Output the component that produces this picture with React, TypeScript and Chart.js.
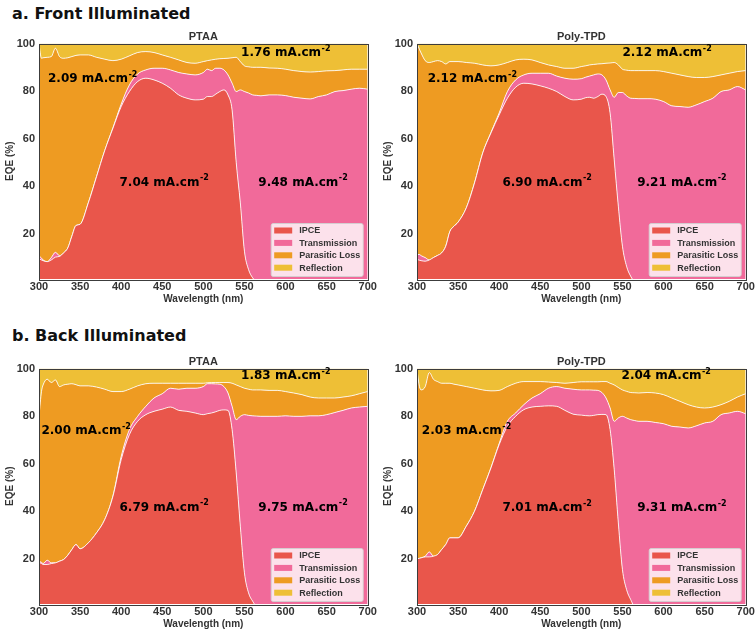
import React, { useEffect, useRef } from "react";
import { Chart, registerables } from "chart.js";
Chart.register(...registerables);

// ---------- DATA ----------
const WAVELENGTH = [
  300, 303, 305, 310, 315, 320, 325, 330, 335, 340, 345, 350,
  360, 370, 380, 390, 400, 410, 420, 430, 440, 450, 460, 470, 480, 490, 500,
  505, 510, 515, 520, 525, 530, 535, 540, 545, 550, 555, 560, 565, 570,
  580, 590, 600, 610, 620, 630, 640, 650, 660, 670, 680, 690, 700,
];

const SERIES_LABELS = ["IPCE", "Transmission", "Parasitic Loss", "Reflection"];
const X_TICK_STEP = 50;
const Y_TICKS = [20, 40, 60, 80, 100];

// cumulative boundaries (EQE %): IPCE, IPCE+Transmission, 100-Reflection
const FRONT_PTAA_IPCE = [
  9.5, 9.0, 8.7, 8.3, 9.0, 10.2, 10.5, 12.0, 14.0, 19.0, 23.5, 24.0,
  33.0, 44.0, 55.0, 64.4, 73.5, 79.8, 84.0, 85.4, 84.7, 83.3, 81.2, 78.4, 77.0, 76.3, 76.6,
  77.7, 77.7, 78.7, 79.8, 80.5, 78.4, 72.0, 50.0, 33.0, 12.7, 5.0, 1.5, 0, 0,
  0, 0, 0, 0, 0, 0, 0, 0, 0, 0, 0, 0, 0,
];
const FRONT_PTAA_IPCE_TRANS = [
  10.8, 9.8, 9.0, 8.3, 10.0, 12.2, 10.8, 12.0, 14.0, 19.0, 23.5, 24.0,
  33.0, 44.0, 55.0, 64.6, 74.5, 82.6, 87.2, 88.9, 89.6, 89.6, 88.9, 87.8, 87.2, 86.8, 87.8,
  89.2, 88.6, 89.6, 89.6, 88.9, 86.8, 83.3, 79.8, 80.5, 79.8, 79.2, 78.4, 78.2, 78.0,
  78.4, 78.4, 78.1, 77.4, 77.0, 76.7, 77.7, 78.4, 79.8, 80.2, 80.8, 81.2, 80.8,
];
const FRONT_PTAA_TOTAL = [
  100, 93.8, 94.0, 94.2, 94.5, 98.0, 94.5, 93.8, 94.0, 94.5, 95.0, 95.2,
  95.2, 94.2, 93.4, 92.8, 93.4, 94.8, 96.2, 96.6, 96.2, 95.2, 94.2, 93.1, 92.0, 91.7, 92.4,
  92.8, 93.1, 93.4, 93.6, 93.7, 93.8, 94.0, 94.2, 92.4, 90.6, 90.2, 90.0, 90.0, 90.0,
  89.7, 89.6, 89.2, 88.6, 88.2, 88.0, 88.2, 88.5, 88.6, 88.9, 89.2, 89.2, 89.2,
];
const FRONT_PTAA_JSC = ["7.04", "9.48", "2.09", "1.76"];

const FRONT_TPD_IPCE = [
  9.2, 8.9, 8.7, 8.5, 9.0, 10.0, 10.9, 12.0, 14.8, 21.0, 23.2, 24.9,
  30.9, 41.4, 54.0, 62.4, 70.0, 77.0, 81.6, 83.3, 83.0, 82.2, 81.2, 79.8, 77.7, 76.3, 76.6,
  77.2, 77.4, 77.0, 77.7, 78.7, 77.7, 70.7, 51.1, 31.6, 14.8, 6.4, 2.2, 0, 0,
  0, 0, 0, 0, 0, 0, 0, 0, 0, 0, 0, 0, 0,
];
const FRONT_TPD_IPCE_TRANS = [
  11.3, 11.3, 10.8, 10.0, 9.0, 10.0, 10.9, 12.0, 14.8, 21.0, 23.2, 24.9,
  30.9, 41.4, 54.0, 62.6, 70.8, 79.8, 84.7, 86.8, 87.5, 87.5, 87.5, 86.3, 85.4, 85.0, 85.2,
  85.8, 86.3, 86.8, 87.2, 86.8, 84.7, 80.5, 77.4, 79.4, 79.4, 78.0, 77.0, 76.9, 76.8,
  76.8, 76.6, 75.6, 73.8, 73.5, 73.2, 74.2, 75.6, 77.0, 79.8, 80.5, 81.9, 80.5,
];
const FRONT_TPD_TOTAL = [
  100, 97.5, 96.0, 92.8, 92.0, 92.4, 92.8, 92.4, 91.4, 92.4, 92.4, 92.4,
  92.0, 91.7, 91.0, 90.6, 91.0, 92.0, 93.1, 93.4, 93.1, 92.0, 91.0, 90.3, 89.6, 89.6, 90.3,
  90.6, 91.0, 91.2, 91.4, 91.5, 91.7, 91.8, 92.0, 91.0, 89.2, 88.8, 88.6, 88.6, 88.6,
  88.6, 88.6, 88.2, 87.5, 86.8, 86.1, 85.7, 85.7, 86.1, 86.8, 87.5, 88.2, 88.6,
];
const FRONT_TPD_JSC = ["6.90", "9.21", "2.12", "2.12"];

const BACK_PTAA_IPCE = [
  18.6, 18.0, 17.6, 17.6, 18.0, 18.3, 19.0, 19.7, 21.5, 23.9, 26.0, 24.2,
  26.7, 30.9, 36.5, 46.3, 61.7, 72.2, 77.8, 80.6, 82.0, 82.9, 83.8, 82.4, 82.0, 81.3, 80.6,
  81.0, 81.3, 81.8, 82.4, 82.6, 82.4, 74.3, 56.1, 33.7, 14.1, 5.7, 2.2, 0, 0,
  0, 0, 0, 0, 0, 0, 0, 0, 0, 0, 0, 0, 0,
];
const BACK_PTAA_IPCE_TRANS = [
  19.0, 18.5, 18.0, 19.4, 18.3, 18.3, 19.0, 19.7, 21.5, 23.9, 26.0, 24.2,
  26.7, 30.9, 36.5, 46.5, 63.0, 74.3, 79.9, 84.1, 87.6, 89.4, 91.7, 91.3, 91.7, 91.7, 92.4,
  93.6, 93.6, 93.5, 93.4, 92.4, 89.7, 84.1, 78.5, 79.9, 80.6, 80.3, 80.1, 80.0, 79.9,
  79.9, 79.9, 80.1, 79.9, 79.9, 80.1, 80.1, 80.6, 81.5, 82.4, 83.4, 83.8, 84.1,
];
const BACK_PTAA_TOTAL = [
  80.0, 90.3, 93.1, 95.5, 94.1, 95.2, 92.4, 93.1, 93.4, 93.6, 93.2, 92.7,
  92.7, 92.2, 91.3, 90.3, 90.3, 91.3, 92.7, 93.6, 93.8, 93.8, 93.8, 93.8, 93.8, 93.8, 93.8,
  94.0, 94.1, 94.1, 94.1, 94.1, 94.1, 93.8, 93.1, 92.4, 91.7, 91.3, 91.0, 91.0, 91.0,
  90.8, 90.8, 90.3, 89.7, 89.0, 88.0, 87.6, 87.6, 87.6, 88.0, 88.5, 89.4, 90.3,
];
const BACK_PTAA_JSC = ["6.79", "9.75", "2.00", "1.83"];

const BACK_TPD_IPCE = [
  20.0, 20.2, 20.4, 20.8, 20.8, 21.1, 21.8, 23.9, 26.0, 28.8, 28.8, 28.8,
  33.7, 40.0, 49.1, 58.2, 68.0, 75.7, 79.9, 82.7, 83.8, 84.1, 84.3, 84.1, 82.4, 80.8, 80.4,
  80.2, 80.1, 80.3, 80.6, 80.7, 80.6, 74.3, 57.5, 35.1, 15.5, 7.1, 2.9, 0, 0,
  0, 0, 0, 0, 0, 0, 0, 0, 0, 0, 0, 0, 0,
];
const BACK_TPD_IPCE_TRANS = [
  20.0, 20.2, 20.4, 21.1, 22.9, 21.1, 21.8, 23.9, 26.0, 28.8, 28.8, 28.8,
  33.7, 40.0, 49.1, 58.3, 68.5, 77.8, 81.3, 84.8, 87.6, 89.4, 91.7, 92.4, 91.7, 91.3, 91.0,
  91.0, 91.0, 90.9, 90.8, 89.9, 87.6, 83.4, 77.8, 79.2, 79.9, 79.2, 78.5, 78.1, 77.8,
  77.8, 77.3, 76.8, 75.7, 75.4, 75.0, 75.9, 77.1, 77.8, 80.6, 81.3, 82.0, 81.0,
];
const BACK_TPD_TOTAL = [
  99.4, 92.4, 91.0, 92.4, 98.3, 95.5, 94.5, 93.8, 93.8, 93.8, 93.4, 93.1,
  92.4, 91.7, 91.0, 90.6, 90.8, 92.4, 93.8, 94.5, 94.5, 94.5, 94.3, 94.1, 93.8, 94.1, 94.4,
  94.4, 94.4, 94.4, 94.4, 94.5, 94.5, 93.8, 93.1, 92.0, 91.0, 90.4, 89.9, 89.8, 89.7,
  89.9, 89.7, 89.0, 87.6, 86.2, 84.8, 83.8, 83.4, 83.8, 84.8, 86.2, 88.0, 89.4,
];
const BACK_TPD_JSC = ["7.01", "9.31", "2.03", "2.04"];

// label anchors in data units [wavelength, EQE] for IPCE, Transmission, Parasitic, Reflection
const LABEL_POS_FRONT_PTAA = [[452, 41.5], [621, 41.5], [365, 85.1], [600, 95.9]];
const LABEL_POS_FRONT_TPD = [[458, 41.5], [622, 41.5], [367, 85.1], [604, 95.9]];
const LABEL_POS_BACK_PTAA = [[452, 41.6], [621, 41.6], [357, 73.7], [600, 96.8]];
const LABEL_POS_BACK_TPD = [[458, 41.3], [622, 41.3], [360, 73.7], [603, 96.8]];

// ---------- STYLE ----------
const COLORS = ["#E9564B", "#F16A9A", "#EE9B22", "#EEBF36"];
const EDGE = "rgba(255,255,255,0.85)";
const SANS = '"Liberation Sans", Arial, sans-serif';
const WIDE = '"DejaVu Sans", Verdana, sans-serif';
const TEXT = "#333333";
const CW = 378;
const CH = 288;

type PanelDef = {
  title: string;
  ipce: number[];
  ipceTrans: number[];
  total: number[];
  jsc: string[];
  pos: number[][];
};

const PANELS: { def: PanelDef; left: number; top: number }[] = [
  { left: 0, top: 22, def: { title: "PTAA", ipce: FRONT_PTAA_IPCE, ipceTrans: FRONT_PTAA_IPCE_TRANS, total: FRONT_PTAA_TOTAL, jsc: FRONT_PTAA_JSC, pos: LABEL_POS_FRONT_PTAA } },
  { left: 378, top: 22, def: { title: "Poly-TPD", ipce: FRONT_TPD_IPCE, ipceTrans: FRONT_TPD_IPCE_TRANS, total: FRONT_TPD_TOTAL, jsc: FRONT_TPD_JSC, pos: LABEL_POS_FRONT_TPD } },
  { left: 0, top: 347, def: { title: "PTAA", ipce: BACK_PTAA_IPCE, ipceTrans: BACK_PTAA_IPCE_TRANS, total: BACK_PTAA_TOTAL, jsc: BACK_PTAA_JSC, pos: LABEL_POS_BACK_PTAA } },
  { left: 378, top: 347, def: { title: "Poly-TPD", ipce: BACK_TPD_IPCE, ipceTrans: BACK_TPD_IPCE_TRANS, total: BACK_TPD_TOTAL, jsc: BACK_TPD_JSC, pos: LABEL_POS_BACK_TPD } },
];

function makeOverlay(def: PanelDef) {
  return {
    id: "overlay",
    afterDatasetsDraw(chart: any) {
      const { ctx, chartArea: a, scales } = chart;
      ctx.save();
      // frame
      ctx.strokeStyle = "#3c3c3c";
      ctx.lineWidth = 1;
      ctx.strokeRect(Math.round(a.left) + 0.5, Math.round(a.top) + 0.5, Math.round(a.right - a.left), Math.round(a.bottom - a.top));

      // panel title
      ctx.fillStyle = TEXT;
      ctx.font = `bold 11px ${SANS}`;
      ctx.textAlign = "center";
      ctx.textBaseline = "middle";
      ctx.fillText(def.title, (a.left + a.right) / 2, a.top - 6.5);

      // current density labels
      def.jsc.forEach((v, i) => {
        const main = `${v} mA.cm`;
        const sup = "-2";
        ctx.font = `bold 12px ${WIDE}`;
        const wm = ctx.measureText(main).width;
        ctx.font = `bold 8px ${WIDE}`;
        const ws = ctx.measureText(sup).width;
        const cx = scales.x.getPixelForValue(def.pos[i][0]);
        const cy = scales.y.getPixelForValue(def.pos[i][1]);
        const x0 = cx - (wm + ws) / 2;
        ctx.textAlign = "left";
        ctx.textBaseline = "middle";
        ctx.fillStyle = "#000";
        ctx.font = `bold 12px ${WIDE}`;
        ctx.fillText(main, x0, cy);
        ctx.font = `bold 8px ${WIDE}`;
        ctx.fillText(sup, x0 + wm + 0.5, cy - 4.5);
      });

      // legend
      const lw = 92, lh = 53;
      const lx = a.right - 5 - lw;
      const ly = a.bottom - 3 - lh;
      ctx.beginPath();
      if ((ctx as any).roundRect) (ctx as any).roundRect(lx + 0.5, ly + 0.5, lw, lh, 2);
      else ctx.rect(lx + 0.5, ly + 0.5, lw, lh);
      ctx.fillStyle = "rgba(255,255,255,0.8)";
      ctx.fill();
      ctx.strokeStyle = "rgba(210,210,210,0.9)";
      ctx.stroke();
      chart.data.datasets.forEach((ds: any, i: number) => {
        const cy = ly + 7.5 + i * 12.4;
        ctx.fillStyle = ds.backgroundColor;
        ctx.fillRect(lx + 3.5, cy - 3, 18, 6);
        ctx.fillStyle = TEXT;
        ctx.font = `bold 9px ${SANS}`;
        ctx.textAlign = "left";
        ctx.textBaseline = "middle";
        ctx.fillText(ds.label, lx + 28.5, cy + 0.5);
      });
      ctx.restore();
    },
  };
}

function Panel({ def, left, top }: { def: PanelDef; left: number; top: number }) {
  const ref = useRef<HTMLCanvasElement>(null);
  useEffect(() => {
    const pts = (arr: number[]) => WAVELENGTH.map((x, i) => ({ x, y: arr[i] }));
    const tickFont = { family: SANS, size: 11, weight: "bold" as const };
    const titleFont = { family: SANS, size: 10, weight: "bold" as const };
    const chart = new Chart(ref.current!, {
      type: "line",
      data: {
        datasets: [
          { label: SERIES_LABELS[0], data: pts(def.ipce), backgroundColor: COLORS[0], borderColor: EDGE, borderWidth: 1, fill: "start" },
          { label: SERIES_LABELS[1], data: pts(def.ipceTrans), backgroundColor: COLORS[1], borderColor: EDGE, borderWidth: 1, fill: "-1" },
          { label: SERIES_LABELS[2], data: pts(def.total), backgroundColor: COLORS[2], borderColor: EDGE, borderWidth: 1, fill: "-1" },
          { label: SERIES_LABELS[3], data: pts(def.total), backgroundColor: COLORS[3], borderColor: "rgba(0,0,0,0)", borderWidth: 0, fill: "end" },
        ],
      },
      options: {
        animation: false,
        responsive: false,
        maintainAspectRatio: false,
        layout: { padding: { top: 21.5, right: 10.3, left: 0, bottom: 0 } },
        elements: {
          point: { radius: 0, hoverRadius: 0 },
          line: { cubicInterpolationMode: "monotone", tension: 0.3 },
        },
        plugins: {
          legend: { display: false },
          title: { display: false },
          tooltip: { enabled: false },
        },
        events: [],
        scales: {
          x: {
            type: "linear",
            min: 300,
            max: 700,
            grid: { display: false, drawTicks: false },
            border: { display: false },
            ticks: { stepSize: X_TICK_STEP, font: tickFont, color: TEXT, padding: 1, maxRotation: 0, autoSkip: false },
            title: { display: true, text: "Wavelength (nm)", font: titleFont, color: TEXT, padding: { top: 0, bottom: 5 } },
            afterFit: (s: any) => { s.height = 31; },
          },
          y: {
            type: "linear",
            min: 1,
            max: 100,
            grid: { display: false, drawTicks: false },
            border: { display: false },
            afterBuildTicks: (s: any) => { s.ticks = Y_TICKS.map((v) => ({ value: v })); },
            ticks: { font: tickFont, color: TEXT, padding: 4 },
            title: { display: true, text: "EQE (%)", font: titleFont, color: TEXT, padding: { top: 4, bottom: 0 } },
            afterFit: (s: any) => { s.width = 39; },
          },
        },
      } as any,
      plugins: [makeOverlay(def)],
    });
    return () => chart.destroy();
  }, []);
  return (
    <canvas
      ref={ref}
      width={CW}
      height={CH}
      style={{ position: "absolute", left, top, width: CW, height: CH }}
    />
  );
}

const headingStyle = (top: number): React.CSSProperties => ({
  position: "absolute",
  left: 12,
  top,
  font: `bold 16px ${WIDE}`,
  lineHeight: "16px",
  color: "#111",
  whiteSpace: "nowrap",
});

export default function App() {
  return (
    <div style={{ position: "absolute", left: 0, top: 0, width: 756, height: 635, overflow: "hidden", background: "#fff" }}>
      <div style={headingStyle(5.5)}>a. Front Illuminated</div>
      <div style={headingStyle(328.2)}>b. Back Illuminated</div>
      {PANELS.map((p, i) => (
        <Panel key={i} def={p.def} left={p.left} top={p.top} />
      ))}
    </div>
  );
}
